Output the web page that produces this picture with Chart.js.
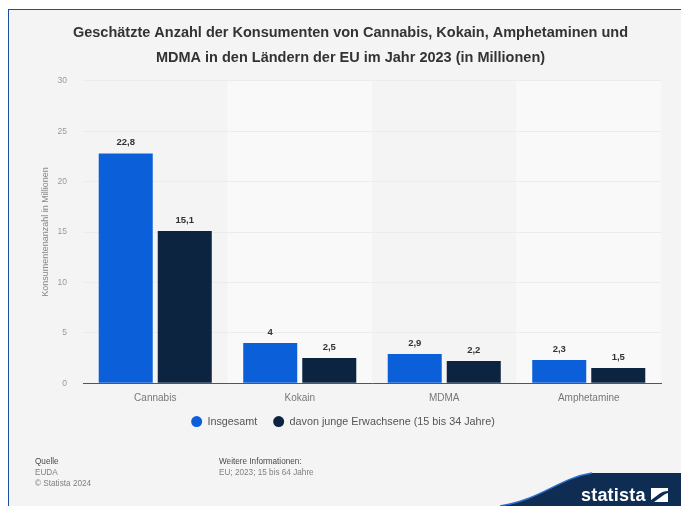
<!DOCTYPE html>
<html lang="de">
<head>
<meta charset="utf-8">
<title>Konsumenten von Drogen in der EU</title>
<script src="https://cdn.jsdelivr.net/npm/chart.js@4"></script>
<style>
    html, body { margin: 0; padding: 0; background: #fff; }
    #page { position: relative; width: 681px; height: 506px; overflow: hidden; font-family: "Liberation Sans", Arial, sans-serif; }
    #frame { position: absolute; left: 8px; top: 9px; right: -2px; bottom: -2px; background: #f4f4f4; border: 1px solid #1b4fa0; }
    #myChart { position: absolute; left: 0; top: 0; }
    .note { position: absolute; font-size: 8.2px; line-height: 11px; color: #808080; }
    .note b { font-weight: normal; color: #4a4a4a; }
    #logo { position: absolute; left: 0; top: 0; }
</style>
</head>
<body>
<div id="page">
    <div id="frame"></div>
    <canvas id="myChart" width="681" height="506"></canvas>
    <div class="note" style="left:35px;top:456px"><b>Quelle</b><br>EUDA<br>© Statista 2024</div>
    <div class="note" style="left:219px;top:456px"><b>Weitere Informationen:</b><br>EU; 2023; 15 bis 64 Jahre</div>
    <svg id="logo" width="681" height="506">
        <path d="M500 506 C540 500 560 478 592 473 L681 473 L681 506 Z" fill="#0f2d52"/>
        <path d="M500 506 C540 500 560 478 592 473" fill="none" stroke="#2a6fd0" stroke-width="1.5"/>
        <text x="581" y="501" font-family="Liberation Sans" font-weight="bold" font-size="18" letter-spacing="0.2" fill="#fff">statista</text>
        <path d="M651 488 H668 V491 C661 491 657 496 651 500 Z M654 502 C660 498 664 494 668 493 V502 Z" fill="#fff"/>
    </svg>
</div>
<script>
// Werte in Millionen
var categories = ['Cannabis', 'Kokain', 'MDMA', 'Amphetamine']
var insgesamt = [22.8, 4, 2.9, 2.3]
var jungeErwachsene = [15.1, 2.5, 2.2, 1.5]
var seriesNames = ['Insgesamt', 'davon junge Erwachsene (15 bis 34 Jahre)']
var yTicks = [0, 5, 10, 15, 20, 25, 30]
var titleLines = [
    'Geschätzte Anzahl der Konsumenten von Cannabis, Kokain, Amphetaminen und',
    'MDMA in den Ländern der EU im Jahr 2023 (in Millionen)'
]

// heller Streifen hinter jeder zweiten Kategorie
var bandPlugin = {
    id: 'bands',
    beforeDraw: function (chart) {
        var area = chart.chartArea
        var x = chart.scales.x
        var step = x.getPixelForTick(1) - x.getPixelForTick(0)
        chart.ctx.save()
        chart.ctx.fillStyle = '#f9f9f9'
        for (var i = 1; i < categories.length; i += 2) {
            chart.ctx.fillRect(x.getPixelForTick(i) - step / 2, area.top, step, area.bottom - area.top)
        }
        chart.ctx.restore()
    }
}

// Werte über den Balken
var valueLabels = {
    id: 'valueLabels',
    afterDatasetsDraw: function (chart) {
        var ctx = chart.ctx
        ctx.save()
        ctx.font = 'bold 9.5px "Liberation Sans"'
        ctx.fillStyle = '#333'
        ctx.textAlign = 'center'
        ctx.textBaseline = 'bottom'
        chart.data.datasets.forEach(function (ds, d) {
            chart.getDatasetMeta(d).data.forEach(function (bar, i) {
                ctx.fillText(String(ds.data[i]).replace('.', ','), bar.x, bar.y - 6)
            })
        })
        ctx.restore()
    }
}

// Legende sitzt etwas links und oberhalb der berechneten Position
var legendShift = {
    id: 'legendShift',
    afterLayout: function (chart) {
        chart.legend.left -= 7.5
        chart.legend.right -= 7.5
        chart.legend.top -= 5
        chart.legend.bottom -= 5
    }
}

new Chart(document.getElementById('myChart'), {
    type: 'bar',
    data: {
        labels: categories,
        datasets: [
            { label: seriesNames[0], data: insgesamt, backgroundColor: '#0b5fd8' },
            { label: seriesNames[1], data: jungeErwachsene, backgroundColor: '#0c2440' }
        ]
    },
    plugins: [bandPlugin, valueLabels, legendShift],
    options: {
        responsive: false,
        animation: false,
        devicePixelRatio: 1,
        layout: { padding: { left: 40, right: 20, top: 21, bottom: 64 } },
        datasets: { bar: { categoryPercentage: 0.817, barPercentage: 0.915 } },
        plugins: {
            tooltip: { enabled: false },
            title: {
                display: true,
                text: titleLines,
                color: '#333',
                font: { family: '"Liberation Sans"', size: 14.5, weight: 'bold', lineHeight: 1.72 },
                padding: { top: 0, bottom: 10 }
            },
            legend: {
                position: 'bottom',
                labels: {
                    usePointStyle: true,
                    pointStyle: 'circle',
                    boxHeight: 7.8,
                    color: '#555',
                    font: { family: '"Liberation Sans"', size: 10.8 },
                    padding: 16
                }
            }
        },
        scales: {
            x: {
                grid: { display: false },
                border: { color: '#555', width: 1 },
                ticks: { color: '#777', font: { family: '"Liberation Sans"', size: 10 }, padding: 1 }
            },
            y: {
                min: 0,
                max: 30,
                afterBuildTicks: function (axis) {
                    axis.ticks = yTicks.map(function (v) { return { value: v } })
                },
                afterFit: function (axis) {
                    axis.width = 43
                },
                grid: { color: '#ececec', drawTicks: false },
                border: { display: false },
                title: {
                    display: true,
                    text: 'Konsumentenanzahl in Millionen',
                    color: '#888',
                    font: { family: '"Liberation Sans"', size: 9 },
                    padding: { top: 0, bottom: 0 }
                },
                ticks: { color: '#999', font: { family: '"Liberation Sans"', size: 8.5 }, padding: 16 }
            }
        }
    }
})
</script>
</body>
</html>
